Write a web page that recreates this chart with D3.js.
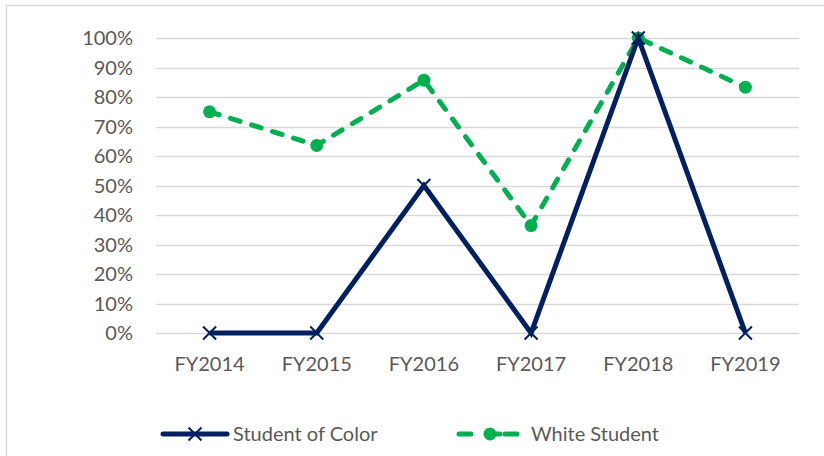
<!DOCTYPE html>
<html>
<head>
<meta charset="utf-8">
<script src="https://cdn.jsdelivr.net/npm/d3@7"></script>
<style>
  body { margin: 0; background: #fff; }
  text { font-family: Lato, "Open Sans", sans-serif; fill: #595959; }
</style>
</head>
<body>
<div id="chart"></div>
<script>
// values
var years = ["FY2014", "FY2015", "FY2016", "FY2017", "FY2018", "FY2019"];
var studentOfColor = [0, 0, 50, 0, 100, 0];
var whiteStudent = [75, 63.6, 85.7, 36.4, 100, 83.3];
var yTicks = [0, 10, 20, 30, 40, 50, 60, 70, 80, 90, 100];

var width = 824, height = 456;

var svg = d3.select("#chart")
  .append("svg")
  .attr("width", width)
  .attr("height", height);

// chart border (runs off the picture on the right and bottom)
svg.append("rect")
  .attr("x", 6.5)
  .attr("y", 5.5)
  .attr("width", 840)
  .attr("height", 470)
  .attr("fill", "none")
  .attr("stroke", "#d9d9d9")
  .attr("stroke-width", 1.5);

var xScale = d3.scalePoint()
  .domain(years)
  .range([156, 799])
  .padding(0.5);

var yScale = d3.scaleLinear()
  .domain([0, 100])
  .range([333, 38]);

// gridlines
svg.selectAll(".grid")
  .data(yTicks)
  .enter()
  .append("line")
  .attr("class", "grid")
  .attr("x1", 156)
  .attr("x2", 799)
  .attr("y1", function(d) { return Math.round(yScale(d)) + 0.5; })
  .attr("y2", function(d) { return Math.round(yScale(d)) + 0.5; })
  .attr("stroke", "#d9d9d9")
  .attr("stroke-width", 1.3);

// y labels
svg.selectAll(".y-label")
  .data(yTicks)
  .enter()
  .append("text")
  .attr("class", "y-label")
  .attr("text-anchor", "end")
  .attr("x", 133)
  .attr("y", function(d) { return yScale(d) + 7; })
  .style("font-size", "20px")
  .text(function(d) { return d + "%"; });

// x labels
svg.selectAll(".x-label")
  .data(years)
  .enter()
  .append("text")
  .attr("class", "x-label")
  .attr("text-anchor", "middle")
  .attr("x", function(d) { return xScale(d); })
  .attr("y", 371)
  .style("font-size", "20px")
  .text(function(d) { return d; });

var navy = "#002060", green = "#00b050";

function pts(vals) {
  return vals.map(function(v, i) { return [xScale(years[i]), yScale(v)]; });
}

var line = d3.line();

// white student (drawn first, behind)
svg.append("path")
  .attr("d", line(pts(whiteStudent)))
  .attr("fill", "none")
  .attr("stroke", green)
  .attr("stroke-width", 5)
  .attr("stroke-linecap", "round")
  .attr("stroke-dasharray", "10,12");

svg.selectAll(".w-dot")
  .data(pts(whiteStudent))
  .enter()
  .append("circle")
  .attr("class", "w-dot")
  .attr("cx", function(d) { return d[0]; })
  .attr("cy", function(d) { return d[1]; })
  .attr("r", 6.5)
  .attr("fill", green);

// student of color
svg.append("path")
  .attr("d", line(pts(studentOfColor)))
  .attr("fill", "none")
  .attr("stroke", navy)
  .attr("stroke-width", 5)
  .attr("stroke-linejoin", "miter");

function xMark(g, x, y) {
  var s = 6.5;
  g.append("path")
    .attr("d", "M" + (x - s) + "," + (y - s) + "L" + (x + s) + "," + (y + s) +
               "M" + (x - s) + "," + (y + s) + "L" + (x + s) + "," + (y - s))
    .attr("stroke", navy)
    .attr("stroke-width", 2)
    .attr("fill", "none");
}

pts(studentOfColor).forEach(function(p) { xMark(svg, p[0], p[1]); });

// legend
var ly = 434;
svg.append("line")
  .attr("x1", 163).attr("x2", 227)
  .attr("y1", ly).attr("y2", ly)
  .attr("stroke", navy)
  .attr("stroke-width", 5)
  .attr("stroke-linecap", "round");
xMark(svg, 195, ly);
svg.append("text")
  .attr("x", 233)
  .attr("y", ly + 7)
  .style("font-size", "20px")
  .text("Student of Color");

svg.append("line")
  .attr("x1", 459).attr("x2", 471)
  .attr("y1", ly).attr("y2", ly)
  .attr("stroke", green).attr("stroke-width", 5).attr("stroke-linecap", "round");
svg.append("line")
  .attr("x1", 505).attr("x2", 517)
  .attr("y1", ly).attr("y2", ly)
  .attr("stroke", green).attr("stroke-width", 5).attr("stroke-linecap", "round");
svg.append("circle")
  .attr("cx", 490).attr("cy", ly).attr("r", 6.5)
  .attr("fill", green);
svg.append("line")
  .attr("x1", 490).attr("x2", 500)
  .attr("y1", ly).attr("y2", ly)
  .attr("stroke", green).attr("stroke-width", 5).attr("stroke-linecap", "round");
svg.append("text")
  .attr("x", 531)
  .attr("y", ly + 7)
  .style("font-size", "20px")
  .text("White Student");
</script>
</body>
</html>
